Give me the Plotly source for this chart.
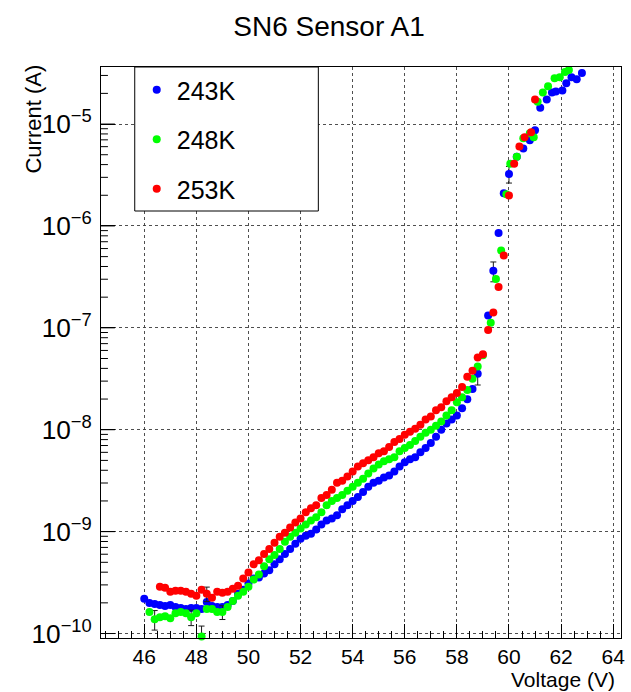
import math
import plotly.graph_objects as go

# ---- data: bias voltage (V) and log10 of leakage current (A) ----
title_text = "SN6 Sensor A1"
x_title = "Voltage (V)"
y_title = "Current (A)"
series_names = ["243K", "248K", "253K"]
series_colors = ["#0000ff", "#00ff00", "#ff0000"]

v_243 = [46.0, 46.2, 46.4, 46.6, 46.8, 47.0, 47.2, 47.4, 47.6, 47.8,
         48.0, 48.2, 48.4, 48.6, 48.8, 49.0, 49.2, 49.4, 49.6, 49.8,
         50.0, 50.2, 50.4, 50.6, 50.8, 51.0, 51.2, 51.4, 51.6, 51.8,
         52.0, 52.2, 52.4, 52.6, 52.8, 53.0, 53.2, 53.4, 53.6, 53.8,
         54.0, 54.2, 54.4, 54.6, 54.8, 55.0, 55.2, 55.4, 55.6, 55.8,
         56.0, 56.2, 56.4, 56.6, 56.8, 57.0, 57.2, 57.4, 57.6, 57.8,
         58.0, 58.2, 58.4, 58.6, 58.8,
         59.2, 59.4, 59.6, 59.8, 60.0, 60.3, 60.55, 60.8, 61.0, 61.2,
         61.45, 61.65, 61.8, 62.05, 62.2, 62.4, 62.6, 62.8]
log_i_243 = [-9.66, -9.70, -9.71, -9.72, -9.73, -9.72, -9.74, -9.75, -9.76, -9.75,
             -9.75, -9.76, -9.69, -9.73, -9.74, -9.74, -9.72, -9.68, -9.61, -9.57,
             -9.51, -9.46, -9.45, -9.41, -9.38, -9.32, -9.27, -9.22, -9.17, -9.12,
             -9.07, -9.04, -9.02, -8.98, -8.93, -8.89, -8.87, -8.84, -8.78, -8.74,
             -8.70, -8.66, -8.61, -8.56, -8.52, -8.50, -8.47, -8.45, -8.41, -8.36,
             -8.32, -8.29, -8.27, -8.22, -8.18, -8.13, -8.07, -8.00, -7.94, -7.90,
             -7.86, -7.79, -7.70, -7.60, -7.45,
             -6.88, -6.44, -6.07, -5.68, -5.49, -5.32, -5.24, -5.16, -5.06, -4.84,
             -4.76, -4.69, -4.68, -4.67, -4.60, -4.54, -4.56, -4.50]
err_243 = {48.4: 3e-11, 58.8: 8e-9, 59.4: 8e-8, 60.0: 6e-7}

v_248 = [46.2, 46.4, 46.6, 46.8, 47.0, 47.2, 47.4, 47.6, 47.8,
         48.0, 48.2, 48.4, 48.6, 48.8, 49.0, 49.2, 49.4, 49.6, 49.8,
         50.0, 50.2, 50.4, 50.6, 50.8, 51.0, 51.2, 51.4, 51.6, 51.8,
         52.0, 52.2, 52.4, 52.6, 52.8, 53.0, 53.2, 53.4, 53.6, 53.8,
         54.0, 54.2, 54.4, 54.6, 54.8, 55.0, 55.2, 55.4, 55.6, 55.8,
         56.0, 56.2, 56.4, 56.6, 56.8, 57.0, 57.2, 57.4, 57.6, 57.8,
         58.0, 58.2, 58.4, 58.6, 58.8, 59.0,
         59.3, 59.5, 59.7, 59.9, 60.05, 60.3, 60.55, 60.8, 60.95, 61.1,
         61.3, 61.5, 61.75, 61.95, 62.15, 62.3]
log_i_248 = [-9.79, -9.86, -9.84, -9.83, -9.85, -9.80, -9.79, -9.80, -9.84,
             -9.80, -10.03, -9.76, -9.76, -9.79, -9.79, -9.74, -9.68, -9.63, -9.59,
             -9.54, -9.47, -9.42, -9.34, -9.27, -9.23, -9.17, -9.10, -9.05, -9.01,
             -8.97, -8.93, -8.89, -8.86, -8.81, -8.74, -8.70, -8.67, -8.64, -8.60,
             -8.56, -8.52, -8.48, -8.43, -8.38, -8.34, -8.31, -8.29, -8.27, -8.21,
             -8.18, -8.15, -8.11, -8.07, -8.03, -8.00, -7.96, -7.92, -7.86, -7.81,
             -7.73, -7.68, -7.61, -7.50, -7.38, -7.27,
             -6.95, -6.52, -6.24, -5.69, -5.39, -5.32, -5.14, -5.09, -5.13, -4.78,
             -4.69, -4.63, -4.55, -4.54, -4.49, -4.47]
err_248 = {46.4: 3e-11, 47.8: 2.5e-11, 48.2: 2.5e-11, 49.0: 2.5e-11}

v_253 = [46.6, 46.8, 47.0, 47.2, 47.4, 47.6, 47.8,
         48.0, 48.2, 48.4, 48.6, 48.8, 49.0, 49.2, 49.4, 49.6, 49.8,
         50.0, 50.2, 50.4, 50.6, 50.8, 51.0, 51.2, 51.4, 51.6, 51.8,
         52.0, 52.2, 52.4, 52.6, 52.8, 53.0, 53.2, 53.4, 53.6, 53.8,
         54.0, 54.2, 54.4, 54.6, 54.8, 55.0, 55.2, 55.4, 55.6, 55.8,
         56.0, 56.2, 56.4, 56.6, 56.8, 57.0, 57.2, 57.4, 57.6, 57.8,
         58.0, 58.2, 58.4, 58.6, 58.8, 59.0,
         59.2, 59.4, 59.6, 59.8, 60.0, 60.2, 60.4, 60.6, 60.85, 61.0]
log_i_253 = [-9.54, -9.55, -9.59, -9.58, -9.58, -9.59, -9.61,
             -9.63, -9.57, -9.61, -9.65, -9.59, -9.60, -9.59, -9.56, -9.53, -9.46,
             -9.40, -9.32, -9.28, -9.22, -9.17, -9.11, -9.05, -9.01, -8.96, -8.91,
             -8.87, -8.81, -8.77, -8.74, -8.67, -8.64, -8.59, -8.52, -8.50, -8.46,
             -8.41, -8.36, -8.33, -8.30, -8.27, -8.23, -8.21, -8.17, -8.12, -8.09,
             -8.05, -8.02, -7.99, -7.95, -7.90, -7.87, -7.81, -7.78, -7.72, -7.68,
             -7.64, -7.58, -7.48, -7.42, -7.29, -7.26,
             -7.02, -6.85, -6.60, -6.29, -5.70, -5.39, -5.22, -5.13, -5.08, -4.76]
err_253 = {48.4: 4e-11}

FONT = "Liberation Sans, Arial, Helvetica, sans-serif"
Y_RANGE = [-10.044, -4.44]
PLOT_W = 524  # plot-area width in px

fig = go.Figure()

for name, color, volts, log_i, errs in [
    (series_names[0], series_colors[0], v_243, log_i_243, err_243),
    (series_names[1], series_colors[1], v_248, log_i_248, err_248),
    (series_names[2], series_colors[2], v_253, log_i_253, err_253),
]:
    current = [10 ** p for p in log_i]
    err = [errs.get(round(v, 2), 0.0) for v in volts]
    fig.add_trace(go.Scatter(
        x=volts, y=current, mode="markers", name=name,
        legendgroup=name,
        marker=dict(symbol="circle", size=8, color=color, line=dict(width=0)),
        error_y=dict(type="data", array=err, visible=True, color="#1a1a1a",
                     thickness=1, width=3),
        cliponaxis=False,
    ))

fig.update_layout(
    width=631, height=692,
    margin=dict(l=101, r=6, t=67, b=54),
    paper_bgcolor="white", plot_bgcolor="white",
    font=dict(family=FONT, color="black"),
    title=dict(text=title_text, x=329 / 631, xanchor="center",
               y=1 - 26 / 692, yanchor="middle",
               font=dict(family=FONT, size=28, color="black")),
    showlegend=True,
    legend=dict(x=(137 - 101) / 524, xanchor="left",
                y=(638 - 67) / 571, yanchor="top",
                bgcolor="rgba(0,0,0,0)", borderwidth=0,
                font=dict(family=FONT, size=25, color="black"),
                tracegroupgap=14, itemwidth=30),
)

grid_color = "rgba(60,60,60,0.9)"

fig.update_xaxes(
    range=[44.34, 64.30], tick0=46, dtick=2,
    ticks="inside", ticklen=14, tickwidth=1, tickcolor="black",
    minor=dict(tick0=46, dtick=0.5, ticks="inside", ticklen=7,
               tickwidth=1, tickcolor="black", showgrid=False),
    showgrid=True, gridcolor=grid_color, griddash="dot", gridwidth=1,
    showline=True, mirror=True, linecolor="black", linewidth=1,
    zeroline=False,
    tickfont=dict(family=FONT, size=21, color="black"),
    ticklabelstandoff=0,
)

fig.update_yaxes(
    type="log", range=Y_RANGE, dtick=1,
    exponentformat="power",
    ticks="inside", ticklen=14, tickwidth=1, tickcolor="black",
    showgrid=True, gridcolor=grid_color, griddash="dot", gridwidth=1,
    showline=True, mirror=True, linecolor="black", linewidth=1,
    zeroline=False,
    tickfont=dict(family=FONT, size=21, color="black"),
    ticklabelstandoff=4,
)

# decade and sub-decade (2..9) tick marks on the inner side of the current axis
span = Y_RANGE[1] - Y_RANGE[0]
for e in range(-11, -4):
    for m in range(1, 10):
        pos = math.log10(m) + e
        if not (Y_RANGE[0] <= pos <= Y_RANGE[1]):
            continue
        frac = (pos - Y_RANGE[0]) / span
        length = 14 if m == 1 else 7
        fig.add_shape(type="line", xref="paper", yref="paper",
                      x0=0, x1=length / PLOT_W, y0=frac, y1=frac,
                      line=dict(color="black", width=1), layer="above")

# opaque legend frame
fig.add_shape(type="rect", xref="paper", yref="paper",
              x0=(135 - 101) / 524, x1=(320 - 101) / 524,
              y0=(638 - 211) / 571, y1=1.0,
              fillcolor="white", line=dict(color="black", width=1),
              layer="above")

# axis titles, aligned to the far end of each axis
fig.add_annotation(text=y_title, xref="paper", yref="paper",
                   x=(32 - 101) / 524, y=(638 - 119) / 571,
                   xanchor="center", yanchor="middle", textangle=-90,
                   showarrow=False, font=dict(family=FONT, size=22, color="black"))
fig.add_annotation(text=x_title, xref="paper", yref="paper",
                   x=(621 - 101) / 524, y=(638 - 679) / 571,
                   xanchor="right", yanchor="middle",
                   showarrow=False, font=dict(family=FONT, size=21, color="black"))

fig.write_html("out.html")
